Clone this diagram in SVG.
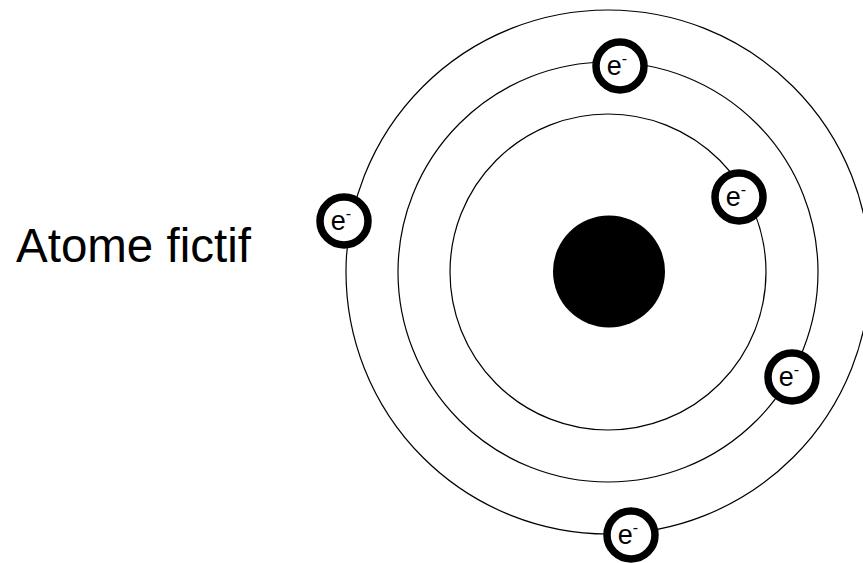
<svg xmlns="http://www.w3.org/2000/svg" width="863" height="563" viewBox="0 0 863 563">
<style>
.orbit{fill:none;stroke:#000;stroke-width:1.2}
.el{fill:#fff;stroke:#000;stroke-width:7.5}
.t{font-family:"Liberation Sans",Arial,sans-serif;fill:#000}
.et{font-size:27px}
.sup{font-size:16px}
</style>
<rect width="863" height="563" fill="#fff"/>
<g id="connectors">
<circle class="orbit" cx="608" cy="272" r="158"/>
<circle class="orbit" cx="608" cy="272" r="210"/>
<circle class="orbit" cx="608" cy="272" r="262"/>
</g>
<g id="nucleus"><circle cx="609" cy="271.5" r="56" fill="#000"/></g>
<g id="label"><text class="t" x="16" y="262" font-size="47.5">Atome fictif</text></g>
<g id="e1"><circle class="el" cx="620" cy="66" r="24"/><text class="t et" x="617" y="75" text-anchor="middle">e<tspan class="sup" dy="-11">-</tspan></text></g>
<g id="e2"><circle class="el" cx="344" cy="221" r="24"/><text class="t et" x="341" y="230" text-anchor="middle">e<tspan class="sup" dy="-11">-</tspan></text></g>
<g id="e3"><circle class="el" cx="739" cy="197" r="24"/><text class="t et" x="736" y="206" text-anchor="middle">e<tspan class="sup" dy="-11">-</tspan></text></g>
<g id="e4"><circle class="el" cx="792" cy="377" r="24"/><text class="t et" x="789" y="386" text-anchor="middle">e<tspan class="sup" dy="-11">-</tspan></text></g>
<g id="e5"><circle class="el" cx="631" cy="535" r="24"/><text class="t et" x="628" y="544" text-anchor="middle">e<tspan class="sup" dy="-11">-</tspan></text></g>
</svg>
